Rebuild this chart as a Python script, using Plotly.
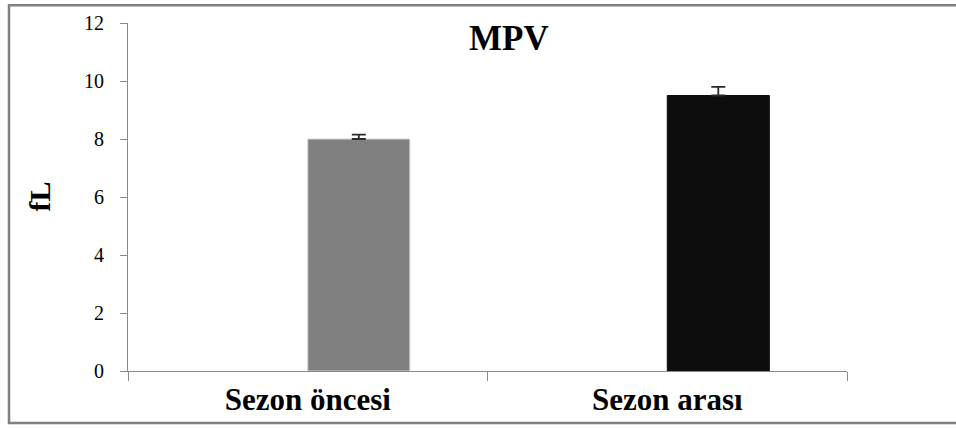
import plotly.graph_objects as go

categories = ["Sezon öncesi", "Sezon arası"]
mpv_values = [8.0, 9.5]
mpv_errors = [0.15, 0.3]
y_ticks = [0, 2, 4, 6, 8, 10, 12]

bar_colors = ["#808080", "#0d0d0d"]
edge_colors = ["#d4d4d4", "#0d0d0d"]

W, H = 956, 429
ML, MR, MT, MB = 128, 109, 20, 54
PW = W - ML - MR
PH = H - MT - MB

def px_x(p):
    return (p - ML) / PW

def px_y(p):
    return (H - MB - p) / PH

fig = go.Figure()
fig.add_trace(go.Bar(
    x=categories,
    y=mpv_values,
    offset=0,
    width=0.284,
    marker=dict(color=bar_colors, line=dict(color=edge_colors, width=1)),
    error_y=dict(type="data", symmetric=False, array=mpv_errors,
                 arrayminus=[0 for _ in mpv_errors], visible=True,
                 color="#2a2a2a", thickness=1.8, width=7),
    showlegend=False,
))

serif = "Liberation Serif"

fig.update_layout(
    width=W, height=H,
    margin=dict(l=ML, r=MR, t=MT, b=MB, pad=0),
    paper_bgcolor="white",
    plot_bgcolor="white",
    font=dict(family=serif, color="black"),
    xaxis=dict(
        type="category",
        range=[-0.5, 1.5],
        tickson="boundaries",
        ticks="outside",
        ticklen=9,
        tickcolor="#8a8a8a",
        showline=True,
        linecolor="#8a8a8a",
        linewidth=1,
        showgrid=False,
        tickfont=dict(family=serif, size=31, color="black", weight="bold"),
        ticklabelstandoff=1,
    ),
    yaxis=dict(
        range=[0, 12],
        tickvals=y_ticks,
        ticks="outside",
        ticklen=7,
        tickcolor="#8a8a8a",
        showline=True,
        linecolor="#8a8a8a",
        linewidth=1,
        showgrid=False,
        zeroline=False,
        tickfont=dict(family=serif, size=20, color="black"),
        ticklabelstandoff=12,
    ),
    annotations=[
        dict(text="<b>MPV</b>", x=px_x(509), y=px_y(36), xref="paper", yref="paper",
             xanchor="center", yanchor="middle", showarrow=False,
             font=dict(family=serif, size=35, color="black")),
        dict(text="<b>fL</b>", x=px_x(40), y=px_y(197), xref="paper", yref="paper",
             xanchor="center", yanchor="middle", showarrow=False, textangle=-90,
             font=dict(family=serif, size=30, color="black")),
    ],
    shapes=[
        dict(type="rect", xref="paper", yref="paper",
             x0=px_x(9), x1=px_x(962), y0=px_y(428), y1=px_y(2),
             line=dict(color="#808080", width=2.5), fillcolor="rgba(0,0,0,0)",
             layer="below"),
    ],
)

fig.write_html("out.html",
               config={"displayModeBar": False},
               post_script="document.body.style.margin='0';document.body.style.overflow='hidden';")
